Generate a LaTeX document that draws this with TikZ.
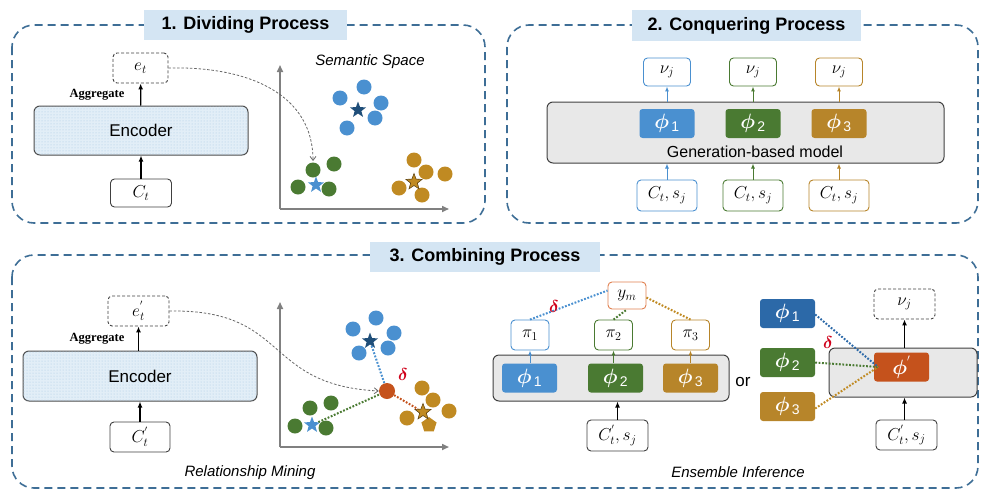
\documentclass[tikz,border=0pt]{standalone}
\usepackage{amsmath,bm}
\usepackage{fontspec}
\setsansfont{Liberation Sans}
\newfontfamily\timesfont{Liberation Serif}
\usetikzlibrary{shapes.geometric,arrows.meta,patterns}

\definecolor{panelblue}{HTML}{3E6E96}
\definecolor{titlebg}{HTML}{D4E5F3}
\definecolor{cblue}{HTML}{4A90D0}
\definecolor{cgreen}{HTML}{4A7A32}
\definecolor{corange}{HTML}{C08A22}
\definecolor{phiorange}{HTML}{B7852A}
\definecolor{darkblue}{HTML}{2C69A8}
\definecolor{navy}{HTML}{1F4E79}
\definecolor{redorange}{HTML}{C5521C}
\definecolor{ymborder}{HTML}{E08050}
\definecolor{modelgray}{HTML}{E8E8E8}
\definecolor{deltared}{HTML}{D0021B}
\definecolor{encfill}{HTML}{E2EEF7}
\definecolor{encdot}{HTML}{A9C9E2}
\definecolor{axisgray}{HTML}{808080}

\tikzset{
  panel/.style={draw=panelblue, line width=1.6pt, dash pattern=on 8pt off 5pt, rounded corners=22pt},
  titlebox/.style={fill=titlebg, inner sep=0pt, font=\sffamily\bfseries\fontsize{18}{18}\selectfont},
  plainbox/.style={draw=black!75, line width=0.9pt, rounded corners=4pt, fill=white, inner sep=0pt,
    font=\fontsize{17}{17}\selectfont},
  dashbox/.style={plainbox, dashed, dash pattern=on 3pt off 2pt},
  encbox/.style={draw=black!70, line width=1pt, rounded corners=6pt, fill=encfill,
    postaction={pattern=dots, pattern color=encdot}, inner sep=0pt,
    font=\sffamily\fontsize{17}{17}\selectfont},
  modelbox/.style={draw=black!75, line width=1pt, rounded corners=6pt, fill=modelgray, inner sep=0pt},
  phibox/.style={fill=#1, rounded corners=3pt, inner sep=0pt, minimum width=55pt, minimum height=29pt,
    text=white, font=\fontsize{20}{20}\selectfont},
  colbox/.style={draw=#1, line width=0.9pt, rounded corners=4pt, fill=white, inner sep=0pt,
    font=\fontsize{17}{17}\selectfont},
  blackarrow/.style={-{Latex[length=6pt,width=5pt]}, line width=1.2pt, black},
  colarrow/.style={-{Latex[length=5pt,width=4pt]}, line width=1pt, draw=#1},
  curvelink/.style={-{Straight Barb[length=4pt,width=6pt]}, black!60, line width=0.8pt, dash pattern=on 2.5pt off 1.8pt},
  axis/.style={-{Triangle[length=7pt,width=6pt]}, axisgray, line width=1.6pt},
  dotlink/.style={draw=#1, line width=2pt, dash pattern=on 1.8pt off 1.6pt},
  aggr/.style={font=\timesfont\bfseries\fontsize{12.5}{12.5}\selectfont},
  caption/.style={font=\sffamily\itshape\fontsize{15}{15}\selectfont},
  starmark/.style={star, star points=5, star point ratio=2.4, minimum size=17pt, inner sep=0pt, fill=#1},
  delta/.style={text=deltared, font=\fontsize{17}{17}\selectfont}
}

\newcommand{\phisym}[1]{$\boldsymbol{\phi}_{\,\textsf{#1}}$}

\begin{document}
\begin{tikzpicture}[x=1pt,y=-1pt]
\useasboundingbox (0,0) rectangle (981,490);

% ---------- panel frames ----------
\draw[panel] (12,25) rectangle (485,223);
\draw[panel] (507,25) rectangle (978,223);
\draw[panel] (12,255) rectangle (978,488);

\node[titlebox, minimum width=203pt, minimum height=30pt] (t1) at (245.5,25) {1. Dividing Process};
\node[titlebox, minimum width=229pt, minimum height=31pt] (t2) at (746.5,25.5) {2. Conquering Process};
\node[titlebox, minimum width=230pt, minimum height=30pt] (t3) at (485,257) {3. Combining Process};

% ---------- 1. dividing ----------
\node[encbox, minimum width=214pt, minimum height=49pt] (enc1) at (141,130.5) {Encoder};
\node[dashbox, minimum width=55pt, minimum height=30pt] (e1) at (140.5,68) {$e_t$};
\node[plainbox, minimum width=61pt, minimum height=28pt] (c1) at (141,193) {$C_t$};
\node[aggr] (ag1) at (97,95) {Aggregate};
\draw[blackarrow] (c1) -- (enc1);
\draw[blackarrow] (enc1) -- (e1);

\coordinate (o1) at (280,209);
\coordinate (yt1) at (280,65);
\coordinate (xt1) at (449,209);
\draw[axis] (o1) -- (yt1);
\draw[axis] (o1) -- (xt1);
\node[caption] (ss) at (370,62) {Semantic Space};

\foreach \p in {(364,87),(340,98),(381,103),(375,118),(347,128)} \fill[cblue] \p circle (7.5);
\node[starmark=navy] (s1b) at (358,110) {};
\foreach \p in {(313,170),(334,164),(298,187),(329,189)} \fill[cgreen] \p circle (7.5);
\node[starmark=cblue] (s1g) at (316,185) {};
\foreach \p in {(414,160),(426,172),(445,174),(399,188),(422,195)} \fill[corange] \p circle (7.5);
\node[starmark=corange, draw=black!50!corange, line width=0.6pt] (s1o) at (414,182) {};
\coordinate (g1top) at (313,161);
\draw[curvelink] (e1.east) .. controls (250,66) and (313,95) .. (g1top);

% ---------- 2. conquering ----------
\node[modelbox, minimum width=397pt, minimum height=61pt] (gm) at (745.5,132.5) {};
\node[font=\sffamily\fontsize{16}{16}\selectfont] (gmt) at (755,152) {Generation-based model};
\foreach \x/\c/\k in {667/cblue/1,753/cgreen/2,839/phiorange/3}{
  \node[phibox=\c] (cp\k) at (\x,123.5) {\phisym{\k}};
  \node[colbox=\c, minimum width=47pt, minimum height=28pt] (cv\k) at (\x,72) {$\nu_j$};
  \node[colbox=\c, minimum width=60pt, minimum height=31pt] (cc\k) at (\x,195.5) {$C_t, s_j$};
  \draw[colarrow=\c] (cc\k.north) -- (cc\k.north |- gm.south);
  \draw[colarrow=\c] (cv\k.south |- gm.north) -- (cv\k.south);
}

% ---------- 3. combining: relationship mining ----------
\node[encbox, minimum width=234pt, minimum height=50pt] (enc3) at (140,376) {Encoder};
\node[dashbox, minimum width=61pt, minimum height=30pt] (e3) at (138.5,311) {$e_t^{'}$};
\node[plainbox, minimum width=60pt, minimum height=30pt] (c3) at (140,437) {$C_t^{'}$};
\node[aggr] (ag3) at (97,339) {Aggregate};
\draw[blackarrow] (c3) -- (c3 |- enc3.south);
\draw[blackarrow] (enc3.north -| e3) -- (e3);

\coordinate (o3) at (280,447);
\coordinate (yt3) at (280,302);
\coordinate (xt3) at (449,447);
\draw[axis] (o3) -- (yt3);
\draw[axis] (o3) -- (xt3);
\node[caption] (rm) at (250,473) {Relationship Mining};

\foreach \p in {(376,318),(353,329),(394,333),(388,348),(359,353)} \fill[cblue] \p circle (7.5);
\foreach \p in {(310,408),(331,403),(295,426),(326,428)} \fill[cgreen] \p circle (7.5);
\foreach \p in {(422,388),(433,400),(449,411),(407,418)} \fill[corange] \p circle (7.5);
\node[regular polygon, regular polygon sides=5, fill=corange, minimum size=16pt, inner sep=0pt] (pent) at (429,425) {};
\node[circle, fill=redorange, minimum size=16pt, inner sep=0pt] (q) at (387,391) {};
\node[starmark=navy] (s3b) at (370,341) {};
\node[starmark=cblue] (s3g) at (312,425) {};
\node[starmark=corange, draw=black!50!corange, line width=0.6pt] (s3o) at (423,412) {};
\draw[dotlink=cblue] (s3b) -- (q);
\draw[dotlink=cgreen] (s3g) -- (q);
\draw[dotlink=redorange] (q) -- (s3o);
\node[delta] (d3) at (403,374) {$\boldsymbol{\delta}$};
\draw[curvelink] (e3.east) .. controls (290,309) and (262,385) .. (q.west);

% ---------- 3. combining: ensemble inference ----------
\node[modelbox, minimum width=236pt, minimum height=46pt] (em) at (611,378) {};
\node[colbox=ymborder, minimum width=38pt, minimum height=27pt] (ym) at (627,295.5) {$y_m$};
\foreach \x/\px/\c/\k in {530/529.5/cblue/1,613.5/615.5/cgreen/2,690.5/690.5/phiorange/3}{
  \node[colbox=\c, minimum width=38pt, minimum height=30pt] (pi\k) at (\x,335) {$\pi_{\k}$};
  \node[phibox=\c] (ep\k) at (\px,378) {\phisym{\k}};
  \draw[colarrow=\c] (ep\k.north -| pi\k) -- (pi\k.south);
}
\node[plainbox, minimum width=61pt, minimum height=31pt] (ec) at (617.5,435.5) {$C_t^{'}, s_j$};
\draw[blackarrow] (ec) -- (ec |- em.south);
\coordinate (ymL) at ([yshift=5pt]ym.west);
\draw[dotlink=cblue] (pi1.north) -- (ymL);
\draw[dotlink=cgreen] (pi2.north) -- (ym.south);
\draw[dotlink=corange] ([yshift=-2pt]ym.east) -- (pi3.north);
\node[delta] (d4) at (554,306) {$\boldsymbol{\delta}$};

\node[font=\sffamily\fontsize{17}{17}\selectfont] (or) at (743,382) {or};

\node[modelbox, minimum width=148pt, minimum height=49pt] (fm) at (903,372.5) {};
\node[phibox=redorange] (pf) at (901.5,367) {$\boldsymbol{\phi}^{'}$};
\node[phibox=darkblue] (f1) at (787.5,313.5) {\phisym{1}};
\node[phibox=cgreen] (f2) at (787.5,362.5) {\phisym{2}};
\node[phibox=phiorange] (f3) at (787.5,406.5) {\phisym{3}};
\node[dashbox, minimum width=61pt, minimum height=30pt] (fv) at (904.5,304) {$\nu_j$};
\node[plainbox, minimum width=61pt, minimum height=30pt] (fc) at (906.5,435) {$C_t^{'}, s_j$};
\draw[blackarrow] (fc.north -| fv) -- (fm.south -| fv);
\draw[blackarrow] (fm.north -| fv) -- (fv.south);
\coordinate (pfin) at (878,367);
\draw[dotlink=darkblue] ([yshift=-1pt]f1.east) -- (pfin);
\draw[dotlink=cgreen] (f2.east) -- (pfin);
\draw[dotlink=corange] ([yshift=-2pt]f3.east) -- (pfin);
\node[delta] (d5) at (828,342) {$\boldsymbol{\delta}$};
\node[caption] (ei) at (738,472) {Ensemble Inference};

\end{tikzpicture}
\end{document}
